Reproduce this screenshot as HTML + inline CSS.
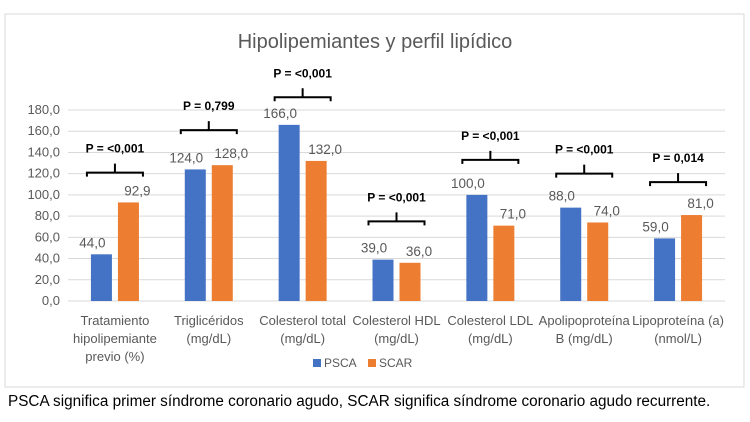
<!DOCTYPE html>
<html><head><meta charset="utf-8"><style>
body{margin:0;background:#fff;width:750px;height:422px;overflow:hidden;font-family:"Liberation Sans",sans-serif}
</style></head><body>
<svg width="750" height="422" style="position:absolute;left:0;top:0">
<rect x="5" y="14" width="739" height="373" fill="#fff" stroke="#d9d9d9"/>
<text x="375" y="48" text-anchor="middle" font-size="20" fill="#595959">Hipolipemiantes y perfil lipídico</text>
<g id="grid"></g><g id="bars"></g><g id="ann"></g>
<g>
<rect x="313" y="359" width="8" height="8" fill="#4472c4"/>
<text x="324" y="367" font-size="12" fill="#595959">PSCA</text>
<rect x="368" y="359" width="8" height="8" fill="#ed7d31"/>
<text x="379" y="367" font-size="12" fill="#595959">SCAR</text>
</g>
<text x="8" y="406" font-size="15.3" fill="#000">PSCA significa primer síndrome coronario agudo, SCAR significa síndrome coronario agudo recurrente.</text>
</svg>
<script>
const categories=[["Tratamiento","hipolipemiante","previo (%)"],["Triglicéridos","(mg/dL)"],["Colesterol total","(mg/dL)"],["Colesterol HDL","(mg/dL)"],["Colesterol LDL","(mg/dL)"],["Apolipoproteína","B (mg/dL)"],["Lipoproteína (a)","(nmol/L)"]];
const psca=[44.0,124.0,166.0,39.0,100.0,88.0,59.0];
const scar=[92.9,128.0,132.0,36.0,71.0,74.0,81.0];
const pLabels=["P = <0,001","P = 0,799","P = <0,001","P = <0,001","P = <0,001","P = <0,001","P = 0,014"];
const bracketLevels=[121,161,192,75,133,120,112];
const yTicks=[0,20,40,60,80,100,120,140,160,180];
const NS="http://www.w3.org/2000/svg";
const x0=68,x1=725,yBase=301,yTop=110,yMax=180;
const y=v=>yBase-(v/yMax)*(yBase-yTop);
const bw=(x1-x0)/categories.length;
const cx=i=>x0+bw*(i+0.5);
const fmt=v=>v.toFixed(1).replace('.',',');
function mk(t,a,p){const e=document.createElementNS(NS,t);for(const k in a)e.setAttribute(k,a[k]);p.appendChild(e);return e;}
const G=document.getElementById('grid'),B=document.getElementById('bars'),A=document.getElementById('ann');
yTicks.forEach(t=>{
 const l=mk('line',{x1:x0,x2:x1,y1:y(t),y2:y(t),stroke:'#d9d9d9'},G);
 
 
 const tx=mk('text',{x:60,y:y(t)+4,'text-anchor':'end','font-size':13,fill:'#595959'},G);
 tx.textContent=fmt(t);
 
 
});
categories.forEach((c,i)=>{
 const c0=cx(i);
 [[psca[i],'#4472c4',c0-24,'psca',-9],[scar[i],'#ed7d31',c0+3,'scar',9]].forEach(([v,col,bx,s,off])=>{
  const r=mk('rect',{x:bx,y:y(v),width:21,height:yBase-y(v),fill:col},B);
  
  
  const t=mk('text',{x:bx+10.5+off,y:y(v)-7,'text-anchor':'middle','font-size':13.5,fill:'#595959'},B);
  t.textContent=fmt(v);
  
  
 });
 const by=y(bracketLevels[i]);
 const p=mk('path',{d:`M${c0-28} ${by+4}V${by}H${c0+28}V${by+4}M${c0} ${by}V${by-9}`,stroke:'#000','stroke-width':2,fill:'none'},A);
 
 
 const pt=mk('text',{x:c0,y:by-20,'text-anchor':'middle','font-size':12,'font-weight':'bold',fill:'#000'},A);
 pt.textContent=pLabels[i];
 
 
 c.forEach((ln,k)=>{
  const t=mk('text',{x:c0,y:325+k*18,'text-anchor':'middle','font-size':13,fill:'#595959'},A);
  t.textContent=ln;
  
  
 });
});
</script>
</body></html>
